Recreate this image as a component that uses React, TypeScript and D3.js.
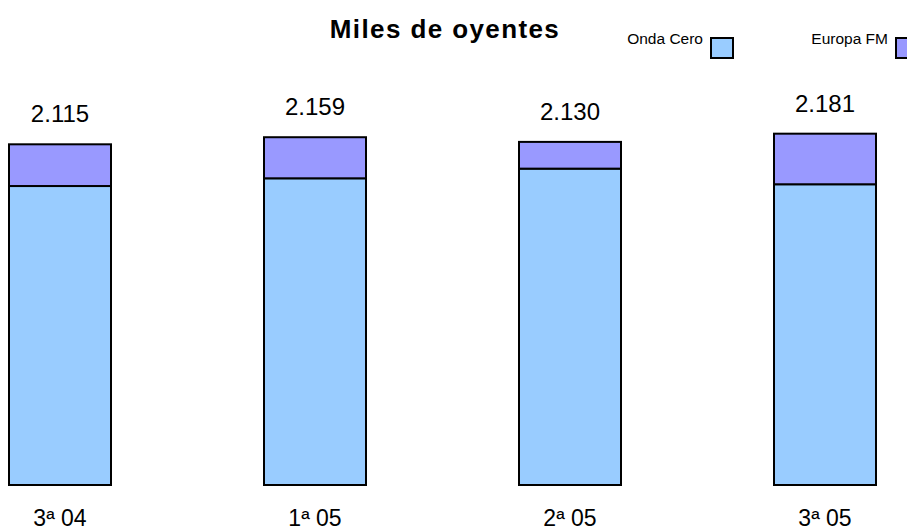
import { useEffect, useRef } from "react";
import * as d3 from "d3";

const categories = ["3ª 04", "1ª 05", "2ª 05", "3ª 05"];
const ondaCero = [1856, 1904, 1964, 1867];
const europaFM = [259, 255, 166, 314];
const totals = ["2.115", "2.159", "2.130", "2.181"];
const seriesNames = ["Onda Cero", "Europa FM"];

const colors = ["#99ccff", "#9999ff"];

function App() {
  const d3Container = useRef<SVGSVGElement | null>(null);

  useEffect(() => {
    if (!d3Container.current) return;
    const width = 907,
      height = 532;

    const svg = d3.select(d3Container.current);
    svg.selectAll("*").remove();
    svg.attr("width", width).attr("height", height);

    const x = d3
      .scaleBand()
      .domain(categories)
      .range([-67.5, 952.5])
      .paddingInner(0.6)
      .paddingOuter(0.3);

    const y = d3.scaleLinear().domain([0, 2200]).range([485, 485 - 2200 / 6.208]);

    const rows = categories.map((c, i) => ({
      cat: c,
      ondaCero: ondaCero[i],
      europaFM: europaFM[i],
    }));
    const stack = d3.stack<any>().keys(["ondaCero", "europaFM"])(rows);

    // bars
    svg
      .selectAll("g.layer")
      .data(stack)
      .enter()
      .append("g")
      .attr("class", "layer")
      .attr("fill", (d, i) => colors[i])
      .selectAll("rect")
      .data((d) => d)
      .enter()
      .append("rect")
      .attr("x", (d: any) => x(d.data.cat)!)
      .attr("y", (d) => y(d[1]))
      .attr("width", x.bandwidth())
      .attr("height", (d) => y(d[0]) - y(d[1]))
      .attr("stroke", "#000")
      .attr("stroke-width", 2);

    // totals above bars
    svg
      .selectAll("text.total")
      .data(rows)
      .enter()
      .append("text")
      .attr("class", "total")
      .attr("x", (d) => x(d.cat)! + x.bandwidth() / 2)
      .attr("y", (d) => y(d.ondaCero + d.europaFM) - 22)
      .attr("text-anchor", "middle")
      .attr("font-family", "Liberation Sans, Arial, sans-serif")
      .attr("font-size", 24)
      .text((d, i) => totals[i]);

    // category labels
    svg
      .selectAll("text.cat")
      .data(categories)
      .enter()
      .append("text")
      .attr("class", "cat")
      .attr("x", (d) => x(d)! + x.bandwidth() / 2)
      .attr("y", 526)
      .attr("text-anchor", "middle")
      .attr("font-family", "Liberation Sans, Arial, sans-serif")
      .attr("font-size", 23)
      .text((d) => d);

    // title
    svg
      .append("text")
      .attr("x", 445)
      .attr("y", 38)
      .attr("text-anchor", "middle")
      .attr("font-family", "Liberation Sans, Arial, sans-serif")
      .attr("font-size", 26)
      .attr("font-weight", "bold")
      .attr("letter-spacing", 1.4)
      .text("Miles de oyentes");

    // legend
    const legendX = [703, 888];
    seriesNames.forEach((name, i) => {
      svg
        .append("text")
        .attr("x", legendX[i])
        .attr("y", 44)
        .attr("text-anchor", "end")
        .attr("font-family", "Liberation Sans, Arial, sans-serif")
        .attr("font-size", 15.5)
        .text(name);
      svg
        .append("rect")
        .attr("x", legendX[i] + 8)
        .attr("y", 38)
        .attr("width", 22)
        .attr("height", 20)
        .attr("fill", colors[i])
        .attr("stroke", "#000")
        .attr("stroke-width", 2);
    });
  }, []);

  return (
    <svg
      ref={d3Container}
      width={907}
      height={532}
      style={{ position: "absolute", left: 0, top: 0, background: "#fff" }}
    />
  );
}

export default App;
